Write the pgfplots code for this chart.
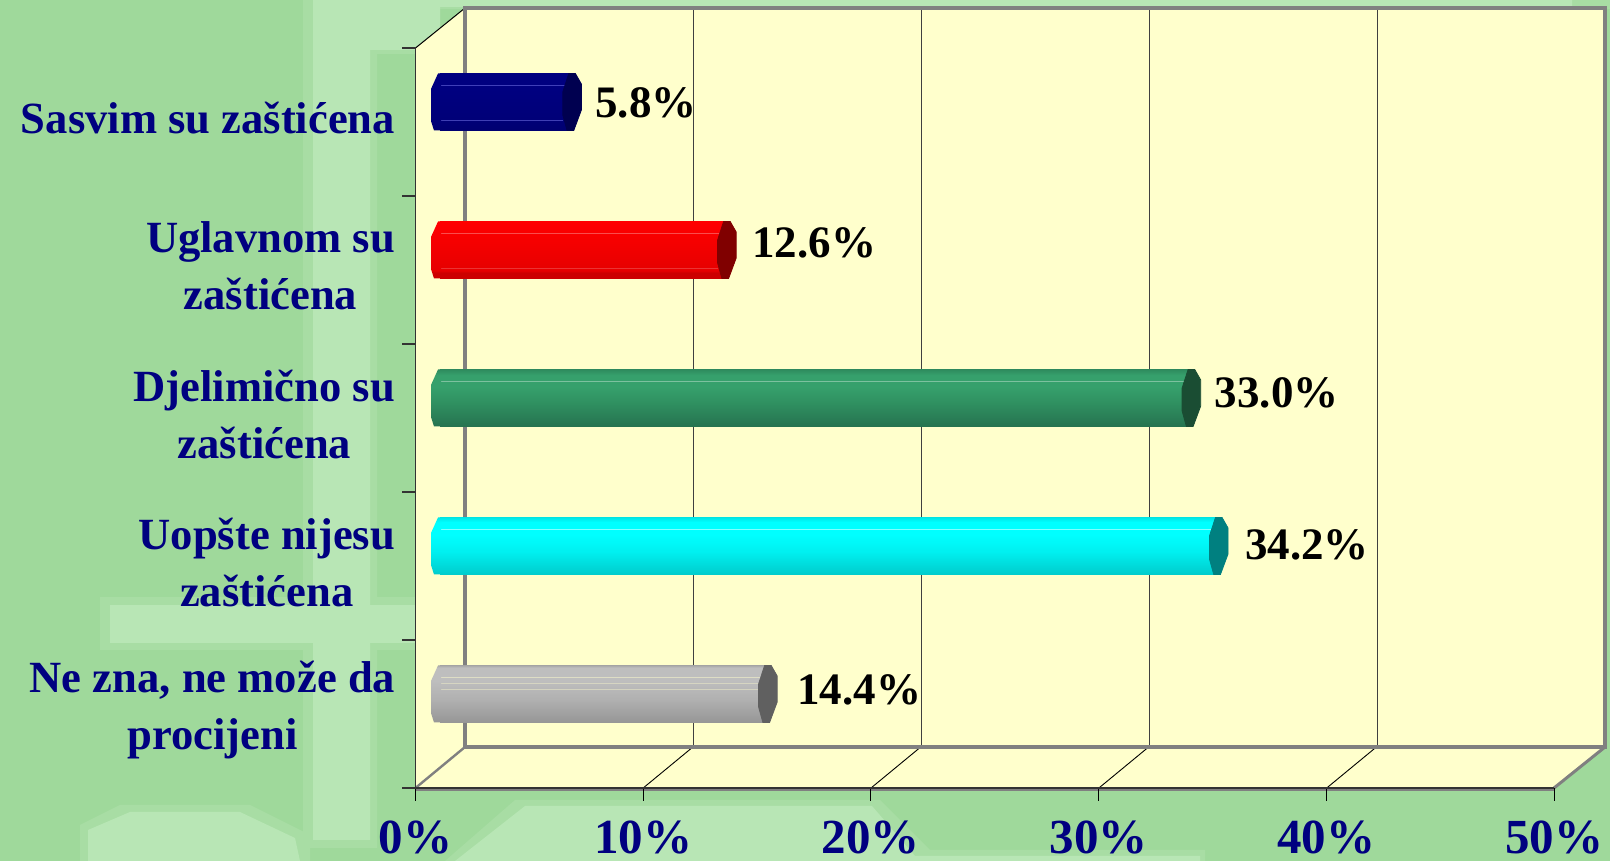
\documentclass[border=0pt]{standalone}
\usepackage{pgfplots}
\pgfplotsset{compat=1.18}
\usepackage{fontspec}
\setmainfont{Liberation Serif}
\newfontfamily\lab{Liberation Serif}
\definecolor{bgG}{HTML}{9FD99B}
\definecolor{bgM}{HTML}{A8DDA4}
\definecolor{bgL}{HTML}{B8E6B5}
\definecolor{wall}{HTML}{FFFFCC}
\definecolor{edge}{HTML}{808080}
\definecolor{navy}{HTML}{000080}
\pgfdeclareverticalshading{shblue}{100bp}{color(0bp)=(blue!44!black);color(25bp)=(blue!44!black);color(35bp)=(blue!47!black);color(60bp)=(blue!50!black);color(100bp)=(blue!50!black)}
\definecolor{r1}{HTML}{CC0000}\definecolor{r2}{HTML}{E60000}\definecolor{r3}{HTML}{FF0000}
\pgfdeclareverticalshading{shred}{100bp}{color(0bp)=(r1);color(30bp)=(r1);color(32bp)=(r2);color(52bp)=(r3!95!black);color(75bp)=(r3);color(100bp)=(r3)}
\definecolor{g1}{HTML}{267350}\definecolor{g2}{HTML}{2F8F60}\definecolor{g3}{HTML}{36A06C}\definecolor{g4}{HTML}{2E8B5E}
\pgfdeclareverticalshading{shgreen}{100bp}{color(0bp)=(g1);color(25bp)=(g1);color(45bp)=(g2);color(60bp)=(g3);color(70bp)=(g3);color(75bp)=(g4);color(100bp)=(g4)}
\definecolor{c1}{HTML}{00CCCC}\definecolor{c2}{HTML}{00F0F0}\definecolor{c3}{HTML}{00FFFF}\definecolor{c4}{HTML}{00E6E6}
\pgfdeclareverticalshading{shcyan}{100bp}{color(0bp)=(c1);color(25bp)=(c1);color(45bp)=(c2);color(60bp)=(c3);color(71bp)=(c3);color(75bp)=(c4);color(100bp)=(c4)}
\definecolor{k1}{HTML}{969696}\definecolor{k2}{HTML}{B0B0B0}\definecolor{k3}{HTML}{BEBEBE}\definecolor{k4}{HTML}{A8A8A8}
\pgfdeclareverticalshading{shgrey}{100bp}{color(0bp)=(k1);color(25bp)=(k1);color(45bp)=(k2);color(62bp)=(k3);color(73bp)=(k3);color(75bp)=(k4);color(100bp)=(k4)}
\newcommand\barmarks[3]{%
\pgfdeclareplotmark{L#1}{\path[shade,shading=#2,draw=none] (0.5pt,14.25pt) -- (-1pt,14.25pt) -- (-4.5pt,6.5pt) -- (-4.5pt,-9.5pt) -- (-3pt,-14.25pt) -- (0.5pt,-14.25pt) -- cycle;}%
\pgfdeclareplotmark{R#1}{\fill[#3] (-1.65pt,14.25pt) -- (-4.65pt,5pt) -- (-4.65pt,-6.5pt) -- (-2.5pt,-14.25pt) -- (0.85pt,-14.25pt) -- (4.65pt,-4pt) -- (4.65pt,9pt) -- (1.65pt,14.25pt) -- cycle;}}
\definecolor{capG}{HTML}{1A4D33}
\definecolor{capB}{HTML}{000050}
\definecolor{capC}{HTML}{008080}
\definecolor{capK}{HTML}{606060}
\definecolor{capR}{HTML}{800000}
\barmarks{blue}{shblue}{capB}
\barmarks{red}{shred}{capR}
\barmarks{green}{shgreen}{capG}
\barmarks{cyan}{shcyan}{capC}
\barmarks{grey}{shgrey}{capK}
\begin{document}
\begin{tikzpicture}
\begin{scope}[x=.5pt,y=-.5pt,yshift=430.5pt]
\useasboundingbox (0,0) rectangle (1610,861);
\fill[bgG] (0,0) rectangle (1610,861);
% lighter background shapes
\fill[bgM] (303,0) rectangle (1610,9) (303,0) rectangle (377,848) (365,0) rectangle (440,54);
\fill[bgM] (100,597) rectangle (420,650);
\fill[bgM] (120,805) -- (250,805) -- (310,835) -- (310,861) -- (80,861) -- (80,825) -- cycle;
\fill[bgM] (515,800) -- (880,800) -- (930,850) -- (1205,850) -- (1205,861) -- (445,861) -- cycle;
\fill[bgL] (313,0) rectangle (1572,7) (313,0) rectangle (370,840) (370,0) rectangle (440,50);
\fill[bgL] (110,605) rectangle (420,643);
\fill[bgL] (130,812) -- (240,812) -- (295,838) -- (300,861) -- (88,861) -- (88,830) -- cycle;
\fill[bgL] (525,806) -- (872,806) -- (915,856) -- (1200,856) -- (1200,861) -- (455,861) -- cycle;
% walls
\fill[wall] (415.5,48) -- (465,8) -- (1605,8) -- (1605,747) -- (1554,788) -- (415.5,788) -- cycle;
\draw[black,line width=.5pt] (415.5,48) -- (465,8);
\draw[edge,line width=1.2pt] (415.5,788) -- (465,747);
\draw[edge,line width=1.5pt] (1554,788) -- (1605,747);
\draw[edge,line width=1pt] (415.5,790) -- (1554,790);
\foreach \x in {643.2,871,1098.9,1326.7} \draw[black,line width=.45pt] (\x,788) -- ++(49.7,-41);
\coordinate (A) at (415.5,788);
\coordinate (B) at (440,768);
\coordinate (C) at (465,747);
\end{scope}
% back wall with its gridlines
\begin{axis}[at={(C)},anchor=south west,scale only axis,width=570pt,height=369.5pt,
  xmin=0,xmax=50,ymin=0,ymax=1,xtick={10,20,30,40},ytick=\empty,xticklabels={},
  major tick length=0pt,xmajorgrids,grid style={black!75,line width=.45pt},
  axis line style={edge,line width=1.7pt},axis on top=false]
\end{axis}
% front frame: axes, ticks and labels
\begin{axis}[at={(A)},anchor=south west,scale only axis,width=569.25pt,height=370pt,
  xmin=0,xmax=50,ymin=-.5,ymax=4.5,
  axis x line*=bottom,axis y line*=left,axis line style={-,black!80,line width=.8pt},
  xtick={0,10,20,30,40,50},
  xticklabels={0\%,10\%,20\%,30\%,40\%,50\%},
  ytick={0,1,2,3,4},
  yticklabels={{Ne zna, ne može da\\procijeni},{Uopšte nijesu\\zaštićena},{Djelimično su\\zaštićena},{Uglavnom su\\zaštićena},{Sasvim su zaštićena}},
  minor ytick={-.5,.5,1.5,2.5,3.5,4.5},
  tick align=outside,major tick length=6.5pt,minor tick length=6.5pt,
  x tick style={black,line width=.5pt},y tick style={draw=none},
  minor y tick style={black!80,draw=black!80,line width=.6pt},
  x tick label style={font=\fontsize{24.5}{28}\selectfont\lab\bfseries,text=navy,inner sep=0pt,anchor=base,yshift=-26.5pt},
  y tick label style={font=\fontsize{22.3}{28.5}\selectfont\lab\bfseries,text=navy,align=center,anchor=east,inner sep=0pt,xshift=-3.5pt,yshift=2pt},
]
\end{axis}
% bars, in the middle of the depth
\begin{axis}[at={(B)},anchor=south west,scale only axis,width=569.25pt,height=370pt,
  xmin=0,xmax=50,ymin=-.5,ymax=4.5,hide axis,clip=false,
  bar shift=0pt,bar width=28.5pt,
  point meta=x,
  nodes near coords={\pgfmathprintnumber[fixed,fixed zerofill,precision=1,assume math mode=true]{\pgfplotspointmeta}\%},
  nodes near coords style={font=\fontsize{22.5}{28}\selectfont\lab\bfseries,text=black,anchor=west,xshift=10.5pt,inner sep=0pt},
]
\addplot[only marks,mark=Lgrey,forget plot,nodes near coords={}] coordinates {(0,0)};
\addplot[xbar,draw=none,shade,shading=shgrey,every node near coord/.append style={xshift=4pt,yshift=2pt}] coordinates {(14.4,0)};
\addplot[only marks,mark=Rgrey,forget plot,nodes near coords={}] coordinates {(14.4,0)};
\addplot[xbar,draw=none,shade,shading=shcyan,every node near coord/.append style={xshift=2.5pt,yshift=.5pt}] coordinates {(34.2,1)};
\addplot[only marks,mark=Lcyan,forget plot,nodes near coords={}] coordinates {(0,1)};
\addplot[only marks,mark=Rcyan,forget plot,nodes near coords={}] coordinates {(34.2,1)};
\addplot[xbar,draw=none,shade,shading=shgreen,every node near coord/.append style={xshift=1pt,yshift=2.5pt}] coordinates {(33.0,2)};
\addplot[only marks,mark=Lgreen,forget plot,nodes near coords={}] coordinates {(0,2)};
\addplot[only marks,mark=Rgreen,forget plot,nodes near coords={}] coordinates {(33.0,2)};
\addplot[xbar,draw=none,shade,shading=shred,every node near coord/.append style={xshift=2pt,yshift=3.5pt}] coordinates {(12.6,3)};
\addplot[only marks,mark=Lred,forget plot,nodes near coords={}] coordinates {(0,3)};
\addplot[only marks,mark=Rred,forget plot,nodes near coords={}] coordinates {(12.6,3)};
\addplot[xbar,draw=none,shade,shading=shblue,every node near coord/.append style={xshift=1pt,yshift=-.5pt}] coordinates {(5.8,4)};
\addplot[only marks,mark=Lblue,forget plot,nodes near coords={}] coordinates {(0,4)};
\addplot[only marks,mark=Rblue,forget plot,nodes near coords={}] coordinates {(5.8,4)};
% thin highlights along the bars
\addplot[forget plot,mark=none,nodes near coords={},line width=.4pt,color=blue!45!white,opacity=.45] coordinates {(-.3,4.11) (5.5,4.11)};
\addplot[forget plot,mark=none,nodes near coords={},line width=.4pt,color=blue!45!white,opacity=.45] coordinates {(-.3,3.875) (5.4,3.875)};
\addplot[forget plot,mark=none,nodes near coords={},line width=.4pt,color=white,opacity=.3] coordinates {(-.3,3.11) (12.3,3.11)};
\addplot[forget plot,mark=none,nodes near coords={},line width=.4pt,color=white,opacity=.2] coordinates {(-.3,2.875) (12.2,2.875)};
\addplot[forget plot,mark=none,nodes near coords={},line width=.4pt,color=white,opacity=.35] coordinates {(-.3,2.11) (32.7,2.11)};
\addplot[forget plot,mark=none,nodes near coords={},line width=.4pt,color=white,opacity=.5] coordinates {(-.3,1.11) (33.9,1.11)};
\addplot[forget plot,mark=none,nodes near coords={},line width=.4pt,color=yellow!20!white,opacity=.5] coordinates {(-.3,.115) (14.1,.115)};
\addplot[forget plot,mark=none,nodes near coords={},line width=.4pt,color=yellow!20!white,opacity=.4] coordinates {(-.3,.07) (14.1,.07)};
\addplot[forget plot,mark=none,nodes near coords={},line width=.4pt,color=yellow!20!white,opacity=.4] coordinates {(-.3,.03) (14.1,.03)};
\end{axis}
\end{tikzpicture}
\end{document}
